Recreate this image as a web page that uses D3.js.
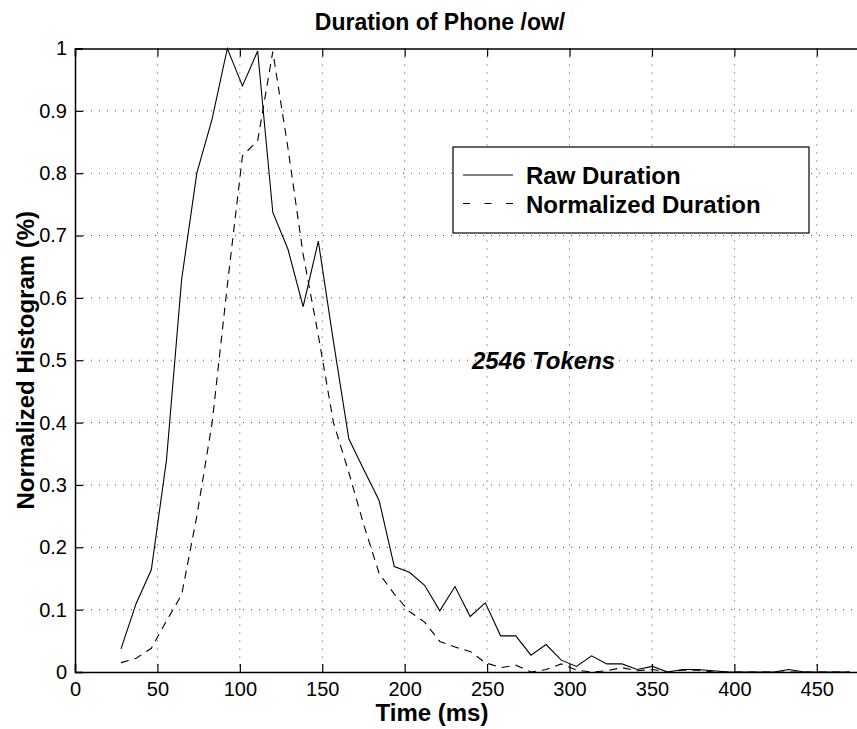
<!DOCTYPE html>
<html lang="en">
	<head>
		<meta charset="utf-8">
		<title>Duration of Phone /ow/</title>
		<script type="text/javascript" src="https://d3js.org/d3.v7.min.js"></script>
		<style type="text/css">
		body {
			margin: 0;
			background: #fff;
		}
		text {
			font-family: "Liberation Sans", Arial, Helvetica, sans-serif;
			fill: #000;
		}
		.tick-label {
			font-size: 20px;
		}
		.bold-label {
			font-size: 24px;
			font-weight: bold;
		}
		.grid line {
			stroke: #444;
			stroke-width: 1;
			stroke-dasharray: 1,7;
		}
		</style>
	</head>
	<body>
		<div id="chart01"></div>
		<script type="text/javascript">
		//bin centres (ms)
		var times = [27.9, 37.1, 46.3, 55.5, 64.7, 73.9, 83.2, 92.4, 101.6, 110.8,
			120.0, 129.2, 138.4, 147.6, 156.8, 166.1, 175.3, 184.5, 193.7, 202.9,
			212.1, 221.3, 230.5, 239.7, 248.9, 258.2, 267.4, 276.6, 285.8, 295.0,
			304.2, 313.4, 322.6, 331.8, 341.0, 350.3, 359.5, 368.7, 377.9, 387.1,
			396.3, 405.5, 414.7, 423.9, 433.1, 442.4, 451.6, 460.8, 470.0];

		//raw duration histogram
		var rawValues = [0.037, 0.11, 0.164, 0.34, 0.63, 0.80, 0.887, 1.0, 0.94, 0.996,
			0.737, 0.678, 0.586, 0.691, 0.53, 0.374, 0.324, 0.275, 0.169, 0.160,
			0.139, 0.098, 0.137, 0.089, 0.111, 0.058, 0.058, 0.027, 0.044, 0.019,
			0.009, 0.026, 0.013, 0.013, 0.004, 0.009, 0, 0.004, 0.004, 0.002,
			0, 0, 0, 0, 0.004, 0, 0, 0, 0];

		//normalized duration histogram
		var normValues = [0.015, 0.022, 0.038, 0.082, 0.124, 0.25, 0.40, 0.62, 0.828, 0.852,
			0.995, 0.84, 0.67, 0.54, 0.40, 0.32, 0.235, 0.158, 0.125, 0.097,
			0.08, 0.049, 0.040, 0.033, 0.015, 0.007, 0.011, 0, 0.004, 0.013,
			0.003, 0, 0.002, 0.007, 0.002, 0.004, 0, 0.003, 0.003, 0,
			0, 0, 0, 0, 0, 0, 0, 0, 0];

		var xTicks = [0, 50, 100, 150, 200, 250, 300, 350, 400, 450];
		var yTicks = [0, 0.1, 0.2, 0.3, 0.4, 0.5, 0.6, 0.7, 0.8, 0.9, 1];

		var seriesNames = ["Raw Duration", "Normalized Duration"];

		var width = 857, height = 729;
		var plot = {"left": 75, "top": 48.5, "right": 858, "bottom": 672};

		var svg = d3.select("#chart01")
			.append("svg")
			.attr("width", width)
			.attr("height", height);

		var x = d3.scaleLinear()
			.domain([0, 475])
			.range([plot.left, plot.right]);

		var y = d3.scaleLinear()
			.domain([0, 1])
			.range([plot.bottom, plot.top]);

		//dotted grid
		var grid = svg.append("g").attr("class", "grid");
		grid.selectAll(".vgrid")
			.data(xTicks.slice(1)).enter()
			.append("line")
			.attr("x1", function(d) { return x(d); })
			.attr("x2", function(d) { return x(d); })
			.attr("y1", plot.top)
			.attr("y2", plot.bottom);
		grid.selectAll(".hgrid")
			.data(yTicks.slice(1, -1)).enter()
			.append("line")
			.attr("x1", plot.left)
			.attr("x2", plot.right)
			.attr("y1", function(d) { return y(d); })
			.attr("y2", function(d) { return y(d); });

		//bottom axis
		svg.append("g")
			.attr("transform", "translate(0," + plot.bottom + ")")
			.call(d3.axisBottom(x).tickValues(xTicks).tickSize(-8).tickPadding(10).tickFormat(d3.format("d")))
			.call(function(g) {
				g.select(".domain").attr("stroke-width", 1.5);
				g.selectAll(".tick line").attr("stroke-width", 1.2);
				g.selectAll(".tick text").attr("class", "tick-label").attr("font-size", null).attr("font-family", null);
			});

		//top axis (ticks only)
		svg.append("g")
			.attr("transform", "translate(0," + plot.top + ")")
			.call(d3.axisTop(x).tickValues(xTicks).tickSize(-8).tickFormat(""))
			.call(function(g) {
				g.select(".domain").attr("stroke-width", 1.5);
				g.selectAll(".tick line").attr("stroke-width", 1.2);
			});

		//left axis
		svg.append("g")
			.attr("transform", "translate(" + plot.left + ",0)")
			.call(d3.axisLeft(y).tickValues(yTicks).tickSize(-8).tickPadding(8).tickFormat(function(d) { return d3.format("")(+d.toFixed(1)); }))
			.call(function(g) {
				g.select(".domain").attr("stroke-width", 1.5);
				g.selectAll(".tick line").attr("stroke-width", 1.2);
				g.selectAll(".tick text").attr("class", "tick-label").attr("font-size", null).attr("font-family", null);
			});

		//lines
		var line = d3.line()
			.x(function(d) { return x(d[0]); })
			.y(function(d) { return y(d[1]); });

		svg.append("clipPath").attr("id", "plotclip")
			.append("rect")
			.attr("x", plot.left)
			.attr("y", plot.top - 2)
			.attr("width", plot.right - plot.left)
			.attr("height", plot.bottom - plot.top + 2);

		svg.append("path")
			.datum(d3.zip(times, rawValues))
			.attr("clip-path", "url(#plotclip)")
			.attr("d", line)
			.attr("fill", "none")
			.attr("stroke", "#000")
			.attr("stroke-width", 1.1);

		svg.append("path")
			.datum(d3.zip(times, normValues))
			.attr("clip-path", "url(#plotclip)")
			.attr("d", line)
			.attr("fill", "none")
			.attr("stroke", "#000")
			.attr("stroke-width", 1.1)
			.attr("stroke-dasharray", "8,6");

		//legend
		var legend = svg.append("g");
		legend.append("rect")
			.attr("x", 453)
			.attr("y", 147)
			.attr("width", 356)
			.attr("height", 86)
			.attr("fill", "#fff")
			.attr("stroke", "#000")
			.attr("stroke-width", 1.2);

		var legendRows = legend.selectAll(".row")
			.data(seriesNames).enter()
			.append("g")
			.attr("transform", function(d, i) { return "translate(463," + (175 + i * 28.5) + ")"; });

		legendRows.append("line")
			.attr("x1", 0)
			.attr("x2", 50)
			.attr("stroke", "#000")
			.attr("stroke-width", 1.1)
			.attr("stroke-dasharray", function(d, i) { return i == 0 ? null : "7,14.5"; });

		legendRows.append("text")
			.attr("class", "bold-label")
			.attr("x", 63)
			.attr("y", 9)
			.text(function(d) { return d; });

		//title and labels
		svg.append("text")
			.attr("class", "bold-label")
			.attr("x", 440)
			.attr("y", 30)
			.attr("text-anchor", "middle")
			.style("font-size", "23px")
			.text("Duration of Phone /ow/");

		svg.append("text")
			.attr("class", "bold-label")
			.attr("x", 432)
			.attr("y", 721)
			.attr("text-anchor", "middle")
			.text("Time (ms)");

		svg.append("text")
			.attr("class", "bold-label")
			.attr("transform", "translate(34," + ((plot.top + plot.bottom) / 2) + ") rotate(-90)")
			.attr("text-anchor", "middle")
			.text("Normalized Histogram (%)");

		svg.append("text")
			.attr("class", "bold-label")
			.attr("x", 472)
			.attr("y", 369)
			.style("font-style", "italic")
			.text("2546 Tokens");
		</script>
	</body>
</html>
